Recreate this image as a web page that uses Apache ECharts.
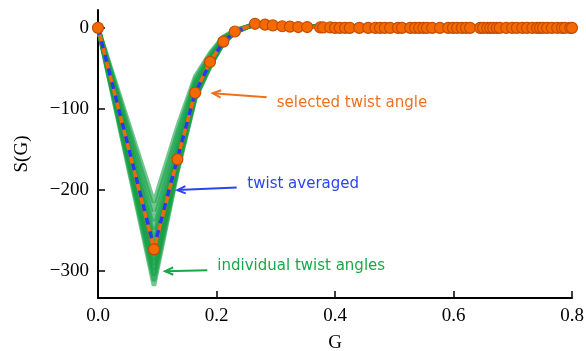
<!DOCTYPE html>
<html>
<head>
<meta charset="utf-8">
<script src="https://cdn.jsdelivr.net/npm/echarts@6/dist/echarts.min.js"></script>
<style>
  html, body { margin: 0; padding: 0; background: #fff; }
  #chart { width: 586px; height: 351px; }
</style>
</head>
<body>
<div id="chart"></div>
<script>
// S(G) against G: individual twist angles, twist averaged, selected twist angle

// G positions of the coarse curves (individual angles + average)
const gCoarse = [0, 0.0945, 0.134, 0.164, 0.19, 0.2115, 0.231, 0.265, 0.3, 0.8];

// one row per individual twist angle, values at gCoarse
const individualAngles = [
    [0, -318, -178, -88, -47, -19, -6, 5, 2, 0],
    [0, -312, -176, -87, -46, -19, -6, 5, 2, 0],
    [0, -305, -173, -86, -45, -18, -5, 5, 2, 0],
    [0, -298, -170, -84, -44, -18, -5, 5, 2, 0],
    [0, -292, -168, -83, -44, -18, -5, 5, 2, 0],
    [0, -286, -166, -82, -43, -18, -5, 5, 2, 0],
    [0, -280, -164, -81, -43, -17, -5, 5, 2, 0],
    [0, -276, -162, -80, -42, -17, -5, 5, 2, 0],
    [0, -270, -158, -78, -41, -17, -5, 5, 2, 0],
    [0, -264, -154, -76, -40, -16, -4, 5, 2, 0],
    [0, -257, -150, -74, -39, -15, -4, 5, 2, 0],
    [0, -248, -144, -71, -37, -14, -4, 4, 2, 0],
    [0, -238, -138, -68, -35, -13, -4, 4, 2, 0],
    [0, -226, -130, -64, -32, -12, -3, 4, 2, 0],
    [0, -215, -122, -60, -30, -11, -3, 4, 2, 0]
];

const twistAveraged = [0, -271, -161, -80, -42, -17, -5, 5, 2, 0];

// selected twist angle: G and S(G)
const gSelected = [
    0, 0.0945, 0.134, 0.164, 0.189, 0.2115, 0.231, 0.265, 0.282, 0.295,
    0.311, 0.324, 0.338, 0.353, 0.375, 0.380, 0.392, 0.400, 0.408, 0.417,
    0.425, 0.441, 0.456, 0.468, 0.476, 0.484, 0.493, 0.506, 0.513, 0.527,
    0.535, 0.542, 0.549, 0.555, 0.564, 0.577, 0.591, 0.599, 0.606, 0.614,
    0.621, 0.628, 0.645, 0.650, 0.657, 0.662, 0.667, 0.673, 0.678, 0.689,
    0.699, 0.707, 0.716, 0.724, 0.733, 0.741, 0.746, 0.751, 0.758, 0.766,
    0.775, 0.783, 0.788, 0.797, 0.8
];
const sSelected = [
    0, -273, -162, -80, -42, -17, -4.5, 5, 4, 3,
    2, 1.5, 1, 1, 0.5, 0.5, 0.5, 0, 0, 0,
    0, 0, 0, 0, 0, 0, 0, 0, 0, 0,
    0, 0, 0, 0, 0, 0, 0, 0, 0, 0,
    0, 0, 0, 0, 0, 0, 0, 0, 0, 0,
    0, 0, 0, 0, 0, 0, 0, 0, 0, 0,
    0, 0, 0, 0, 0
];

const xTicks = [0, 0.2, 0.4, 0.6, 0.8];
const yTicks = [-300, -200, -100, 0];

const GREEN = '#14a046';
const BLUE = '#1f3cf5';
const ORANGE = '#f2680c';

const zip = (xs, ys) => xs.map((x, i) => [x, ys[i]]);

const series = [];
individualAngles.forEach(row => {
    series.push({
        type: 'line',
        data: zip(gCoarse, row),
        showSymbol: false,
        lineStyle: { color: GREEN, width: 4.5, opacity: 0.6 },
        z: 1
    });
});
series.push({
    type: 'line',
    data: zip(gSelected, sSelected),
    showSymbol: false,
    lineStyle: { color: ORANGE, width: 3.5 },
    z: 2
});
series.push({
    type: 'line',
    data: zip(gCoarse, twistAveraged),
    showSymbol: false,
    lineStyle: { color: BLUE, width: 3.5, type: [7, 7] },
    z: 3
});
series.push({
    type: 'scatter',
    data: zip(gSelected, sSelected),
    symbolSize: 11,
    itemStyle: { color: '#f56a00', borderColor: '#c44c00', borderWidth: 1.2, opacity: 1 },
    z: 4
});

const serif = 'Liberation Serif';
const minus = v => String(v).replace('-', '\u2212');

const chart = echarts.init(document.getElementById('chart'));
chart.setOption({
    animation: false,
    grid: { left: 98, right: 14, top: 10, bottom: 53, containLabel: false, outerBoundsMode: 'none' },
    xAxis: {
        type: 'value', min: 0, max: 0.8, interval: 0.2,
        name: 'G', nameLocation: 'middle', nameGap: 36,
        nameTextStyle: { fontFamily: serif, fontSize: 19, color: '#000' },
        axisLine: { onZero: false, lineStyle: { color: '#000', width: 2 } },
        axisTick: { inside: true, length: 7, lineStyle: { color: '#000', width: 1.5 } },
        axisLabel: { margin: 9, fontFamily: serif, fontSize: 19, color: '#000',
            customValues: xTicks, formatter: v => v.toFixed(1) },
        splitLine: { show: false }
    },
    yAxis: {
        type: 'value', min: -333, max: 22,
        name: 'S(G)', nameLocation: 'middle', nameGap: 66, nameRotate: 90,
        nameTextStyle: { fontFamily: serif, fontSize: 19, color: '#000' },
        axisLine: { onZero: false, lineStyle: { color: '#000', width: 2 } },
        axisTick: { inside: true, length: 7, customValues: yTicks,
            lineStyle: { color: '#000', width: 1.5 } },
        axisLabel: { margin: 9, fontFamily: serif, fontSize: 19, color: '#000',
            customValues: yTicks, formatter: minus },
        splitLine: { show: false }
    },
    series: series
});

// annotations: arrow tail, arrow tip, text anchor (data coordinates)
const notes = [
    { text: 'selected twist angle', color: '#f0701e', tail: [0.2847, -85.6], tip: [0.1936, -80.6], at: [0.3016, -92.6] },
    { text: 'twist averaged', color: '#2b44f0', tail: [0.2341, -196.7], tip: [0.1338, -200], at: [0.252, -193] },
    { text: 'individual twist angles', color: '#18a848', tail: [0.1845, -298.8], tip: [0.1131, -300], at: [0.2014, -293.8] }
];

const graphic = [];
notes.forEach(n => {
    const a = chart.convertToPixel({ gridIndex: 0 }, n.tail);
    const b = chart.convertToPixel({ gridIndex: 0 }, n.tip);
    const t = chart.convertToPixel({ gridIndex: 0 }, n.at);
    const ang = Math.atan2(a[1] - b[1], a[0] - b[0]);
    const hl = 9, spread = 0.42;
    const h1 = [b[0] + hl * Math.cos(ang + spread), b[1] + hl * Math.sin(ang + spread)];
    const h2 = [b[0] + hl * Math.cos(ang - spread), b[1] + hl * Math.sin(ang - spread)];
    graphic.push({
        type: 'line', z: 10,
        shape: { x1: a[0], y1: a[1], x2: b[0], y2: b[1] },
        style: { stroke: n.color, lineWidth: 2 }
    });
    graphic.push({
        type: 'polyline', z: 10,
        shape: { points: [h1, b, h2] },
        style: { stroke: n.color, lineWidth: 2, fill: null }
    });
    graphic.push({
        type: 'text', z: 10, x: t[0], y: t[1],
        style: { text: n.text, fill: n.color, font: '15px "DejaVu Sans"',
            textAlign: 'left', textVerticalAlign: 'middle' }
    });
});
chart.setOption({ graphic: graphic });
</script>
</body>
</html>
